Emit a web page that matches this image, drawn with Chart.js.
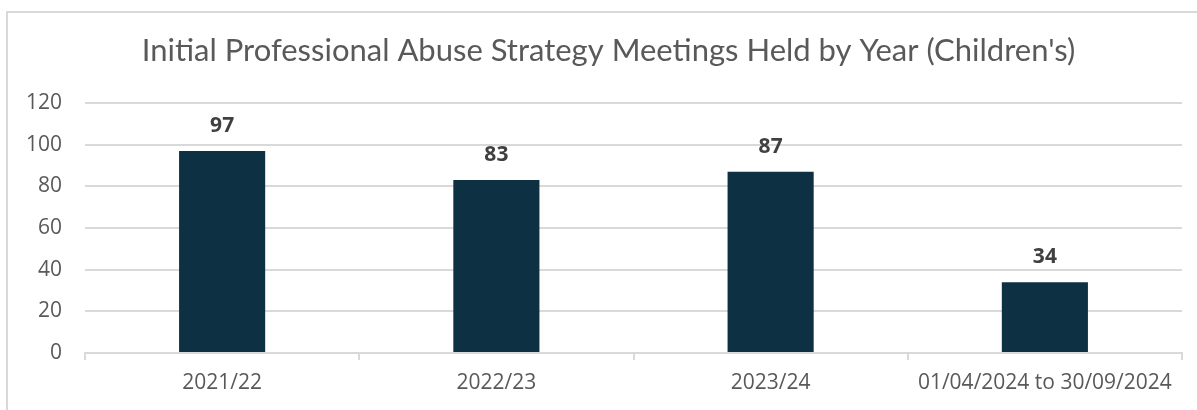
<!DOCTYPE html>
<html>
<head>
<meta charset="utf-8">
<title>Initial Professional Abuse Strategy Meetings</title>
<script src="https://cdn.jsdelivr.net/npm/chart.js@4"></script>
<style>
    html, body { margin: 0; padding: 0; background: #ffffff; overflow: hidden; }
    .frame { position: absolute; left: 0; top: 0; width: 1197px; height: 410px; }
    .frame-border {
        position: absolute; left: 6px; top: 11px; right: 0; bottom: -5px;
        border-top: 2px solid #d9d9d9; border-left: 2px solid #d9d9d9;
        pointer-events: none;
    }
</style>
</head>
<body>
<div class="frame">
    <canvas id="meetingsChart" width="1197" height="410"></canvas>
    <div class="frame-border"></div>
</div>
<script>
// ==========================================
// DỮ LIỆU BIỂU ĐỒ
// ==========================================
const chartTitle = "Initial Professional Abuse Strategy Meetings Held by Year (Children's)";
const yearLabels = ['2021/22', '2022/23', '2023/24', '01/04/2024 to 30/09/2024'];
const meetingCounts = [97, 83, 87, 34];
const yTicks = [0, 20, 40, 60, 80, 100, 120];

const TEXT_GREY = '#595959';
const GRID_GREY = '#d9d9d9';
const BAR_NAVY = '#0e3043';

// tiêu đề vẽ tay để căn giữa giống bản gốc
const chartTitleText = {
    id: 'chartTitleText',
    afterDraw(chart) {
        const ctx = chart.ctx;
        ctx.save();
        ctx.font = '400 31px Lato';
        ctx.fillStyle = TEXT_GREY;
        ctx.textAlign = 'center';
        ctx.textBaseline = 'alphabetic';
        ctx.fillText(chartTitle, 608.5, 61);
        ctx.restore();
    }
};

// nhãn số liệu phía trên cột
const barValueLabels = {
    id: 'barValueLabels',
    afterDatasetsDraw(chart) {
        const ctx = chart.ctx;
        const meta = chart.getDatasetMeta(0);
        ctx.save();
        ctx.font = 'bold 21px "Open Sans"';
        ctx.fillStyle = '#404040';
        ctx.textAlign = 'center';
        ctx.textBaseline = 'middle';
        meta.data.forEach((bar, i) => {
            ctx.fillText(String(meetingCounts[i]), bar.x, bar.y - 25);
        });
        ctx.restore();
    }
};

new Chart(document.getElementById('meetingsChart'), {
    type: 'bar',
    data: {
        labels: yearLabels,
        datasets: [{
            data: meetingCounts,
            backgroundColor: BAR_NAVY,
            categoryPercentage: 1,
            barPercentage: 0.314
        }]
    },
    options: {
        responsive: false,
        animation: false,
        layout: { padding: { left: 0, right: 15, top: 103, bottom: 0 } },
        plugins: {
            legend: { display: false },
            tooltip: { enabled: false },
            title: { display: false }
        },
        scales: {
            x: {
                grid: {
                    display: true,
                    drawOnChartArea: false,
                    color: GRID_GREY,
                    lineWidth: 2,
                    tickLength: 7
                },
                border: { display: true, color: GRID_GREY, width: 2 },
                ticks: {
                    color: TEXT_GREY,
                    font: { family: 'Open Sans', size: 21 },
                    padding: 10,
                    maxRotation: 0
                },
                afterFit(scale) { scale.height = 57; }
            },
            y: {
                min: 0,
                max: 120,
                afterBuildTicks(scale) {
                    scale.ticks = yTicks.map(v => ({ value: v }));
                },
                grid: {
                    color: GRID_GREY,
                    lineWidth: 2,
                    drawTicks: false
                },
                border: { display: false },
                ticks: {
                    color: TEXT_GREY,
                    font: { family: 'Open Sans', size: 21 },
                    padding: 23
                },
                afterFit(scale) { scale.width = 85; }
            }
        }
    },
    plugins: [chartTitleText, barValueLabels]
});
</script>
</body>
</html>
